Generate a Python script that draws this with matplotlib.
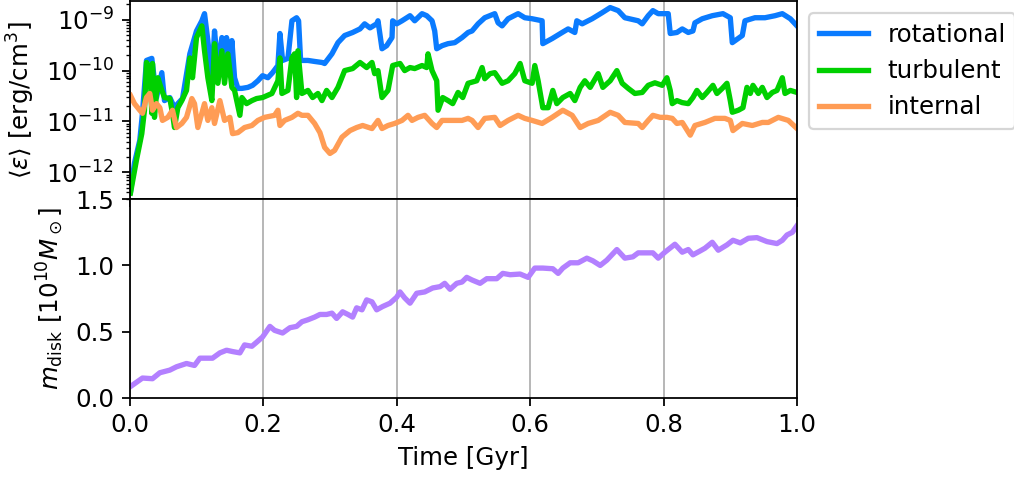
import matplotlib
matplotlib.use("Agg")
import matplotlib.pyplot as plt
import numpy as np

plt.rcParams.update({'font.size': 11})

# energy densities, stored as log10 of <eps> in erg/cm^3
t_rot = [0.001, 0.007, 0.015, 0.019, 0.025, 0.033, 0.040, 0.048, 0.052, 0.060, 0.067, 0.072, 0.079,
         0.090, 0.100, 0.108, 0.112, 0.117, 0.123, 0.127, 0.132, 0.138, 0.142, 0.145, 0.150, 0.153,
         0.157, 0.162, 0.168, 0.177, 0.184, 0.192, 0.199, 0.207, 0.214, 0.222, 0.225, 0.229, 0.237,
         0.243, 0.250, 0.253, 0.256, 0.267, 0.277, 0.288, 0.292, 0.303, 0.312, 0.322, 0.334, 0.345,
         0.352, 0.360, 0.370, 0.372, 0.378, 0.385, 0.393, 0.394, 0.400, 0.408, 0.420, 0.427, 0.438,
         0.445, 0.453, 0.457, 0.460, 0.468, 0.477, 0.487, 0.498, 0.507, 0.513, 0.522, 0.532, 0.547,
         0.552, 0.558, 0.567, 0.582, 0.592, 0.603, 0.618, 0.619, 0.633, 0.648, 0.657, 0.667, 0.670,
         0.678, 0.693, 0.708, 0.720, 0.732, 0.742, 0.762, 0.768, 0.777, 0.784, 0.792, 0.807, 0.810,
         0.820, 0.828, 0.837, 0.844, 0.847, 0.858, 0.873, 0.889, 0.900, 0.903, 0.918, 0.922, 0.937,
         0.952, 0.967, 0.978, 0.990, 1.000]
log_rot = [-12.39, -11.82, -11.37, -10.84, -9.80, -9.76, -10.53, -10.04, -10.59, -10.53, -10.73, -10.65, -10.55,
           -9.67, -9.22, -9.02, -8.88, -9.41, -10.20, -9.22, -9.94, -9.35, -9.94, -9.35, -10.06, -9.41,
           -10.14, -10.35, -10.35, -10.33, -10.29, -10.20, -10.10, -10.14, -10.04, -9.90, -9.27, -9.80, -9.76,
           -9.02, -8.96, -9.02, -9.80, -9.80, -9.82, -9.84, -9.86, -9.67, -9.45, -9.31, -9.25, -9.18,
           -9.08, -9.16, -9.08, -9.02, -9.57, -9.51, -9.35, -9.02, -9.08, -9.02, -8.92, -9.02, -8.88,
           -8.92, -9.02, -9.22, -9.57, -9.51, -9.47, -9.45, -9.35, -9.25, -9.22, -9.08, -8.96, -8.88,
           -9.06, -9.12, -8.98, -8.88, -8.96, -8.98, -9.02, -9.47, -9.37, -9.25, -9.18, -9.25, -9.02,
           -9.08, -8.98, -8.86, -8.76, -8.82, -8.96, -9.02, -9.08, -8.92, -8.82, -8.88, -8.88, -9.27,
           -9.25, -9.18, -9.25, -9.22, -9.06, -8.98, -8.92, -8.88, -8.96, -9.45, -9.31, -9.02, -8.96,
           -8.96, -8.92, -8.88, -8.98, -9.12]

t_turb = [0.001, 0.010, 0.018, 0.022, 0.025, 0.030, 0.033, 0.034, 0.037, 0.042, 0.048, 0.052, 0.060,
          0.064, 0.067, 0.072, 0.078, 0.085, 0.090, 0.094, 0.100, 0.108, 0.112, 0.117, 0.123, 0.127,
          0.132, 0.138, 0.142, 0.147, 0.153, 0.157, 0.165, 0.168, 0.175, 0.183, 0.190, 0.199, 0.213,
          0.222, 0.225, 0.228, 0.237, 0.243, 0.247, 0.250, 0.252, 0.258, 0.267, 0.274, 0.282, 0.288,
          0.295, 0.303, 0.312, 0.322, 0.334, 0.345, 0.355, 0.363, 0.367, 0.372, 0.378, 0.387, 0.394,
          0.405, 0.412, 0.420, 0.427, 0.438, 0.445, 0.447, 0.453, 0.460, 0.462, 0.469, 0.477, 0.484,
          0.492, 0.499, 0.507, 0.520, 0.528, 0.532, 0.540, 0.547, 0.558, 0.567, 0.577, 0.585, 0.592,
          0.603, 0.607, 0.612, 0.619, 0.627, 0.634, 0.640, 0.649, 0.660, 0.667, 0.675, 0.682, 0.690,
          0.702, 0.709, 0.720, 0.730, 0.738, 0.747, 0.757, 0.768, 0.777, 0.787, 0.798, 0.805, 0.810,
          0.813, 0.820, 0.828, 0.837, 0.844, 0.850, 0.858, 0.865, 0.874, 0.880, 0.888, 0.895, 0.900,
          0.903, 0.912, 0.919, 0.925, 0.930, 0.934, 0.942, 0.948, 0.955, 0.963, 0.970, 0.978, 0.982,
          0.990, 1.000]
log_turb = [-12.41, -11.76, -11.24, -10.78, -9.84, -9.94, -10.84, -9.86, -10.92, -10.14, -10.39, -10.53, -10.55,
            -10.84, -11.12, -10.73, -10.59, -10.39, -9.75, -10.14, -9.35, -9.12, -9.61, -10.14, -10.59, -9.47,
            -10.25, -9.61, -10.25, -9.67, -10.33, -10.39, -10.88, -10.53, -10.65, -10.59, -10.55, -10.53, -10.45,
            -10.20, -9.75, -10.45, -10.39, -9.75, -9.67, -10.53, -9.61, -10.45, -10.39, -10.53, -10.45, -10.59,
            -10.39, -10.53, -10.33, -10.00, -9.96, -9.84, -9.94, -9.84, -10.06, -10.00, -10.53, -10.39, -9.90,
            -9.86, -10.00, -9.94, -9.96, -9.90, -9.94, -9.67, -10.00, -10.20, -10.78, -10.53, -10.59, -10.65,
            -10.43, -10.53, -10.25, -10.20, -9.94, -10.16, -10.06, -10.04, -10.25, -10.20, -10.06, -9.86, -10.20,
            -10.25, -9.90, -10.20, -10.73, -10.73, -10.39, -10.65, -10.53, -10.45, -10.59, -10.33, -10.20, -10.33,
            -10.06, -10.33, -10.20, -10.00, -10.25, -10.35, -10.45, -10.43, -10.29, -10.24, -10.29, -10.14, -10.39,
            -10.65, -10.59, -10.63, -10.65, -10.53, -10.39, -10.53, -10.43, -10.29, -10.45, -10.35, -10.25, -10.59,
            -10.82, -10.78, -10.73, -10.33, -10.45, -10.29, -10.45, -10.33, -10.53, -10.43, -10.39, -10.14, -10.45,
            -10.39, -10.43]

t_int = [0.001, 0.007, 0.015, 0.019, 0.025, 0.030, 0.034, 0.040, 0.045, 0.049, 0.057, 0.064, 0.070,
         0.078, 0.085, 0.093, 0.097, 0.102, 0.108, 0.112, 0.117, 0.123, 0.127, 0.135, 0.142, 0.150,
         0.154, 0.162, 0.172, 0.183, 0.192, 0.202, 0.217, 0.222, 0.225, 0.232, 0.243, 0.252, 0.258,
         0.267, 0.277, 0.285, 0.292, 0.300, 0.307, 0.318, 0.330, 0.340, 0.349, 0.363, 0.372, 0.378,
         0.387, 0.397, 0.408, 0.417, 0.423, 0.432, 0.442, 0.453, 0.460, 0.468, 0.483, 0.498, 0.507,
         0.513, 0.522, 0.532, 0.547, 0.555, 0.567, 0.582, 0.592, 0.603, 0.618, 0.633, 0.649, 0.663,
         0.675, 0.687, 0.702, 0.720, 0.732, 0.742, 0.762, 0.768, 0.777, 0.784, 0.795, 0.805, 0.813,
         0.820, 0.828, 0.840, 0.847, 0.862, 0.877, 0.892, 0.900, 0.904, 0.918, 0.933, 0.948, 0.957,
         0.972, 0.987, 1.000]
log_int = [-10.49, -10.65, -10.78, -10.84, -10.53, -10.45, -10.78, -10.65, -10.73, -10.98, -10.92, -10.78, -11.12,
           -11.04, -10.92, -10.55, -10.65, -11.12, -10.84, -10.65, -10.98, -10.73, -11.04, -10.59, -10.98, -10.92,
           -11.24, -11.22, -11.12, -11.08, -10.98, -10.92, -10.88, -10.78, -11.08, -10.98, -10.92, -10.84, -10.88,
           -10.88, -11.04, -11.22, -11.51, -11.63, -11.57, -11.31, -11.18, -11.12, -11.08, -11.14, -10.98, -11.14,
           -11.08, -11.04, -10.98, -10.88, -10.98, -10.92, -10.88, -11.04, -11.12, -10.98, -10.98, -10.98, -10.94,
           -10.98, -11.12, -10.94, -10.92, -11.08, -10.98, -10.88, -10.94, -10.98, -11.04, -10.92, -10.78, -10.88,
           -11.12, -11.04, -10.98, -10.82, -10.88, -11.02, -11.04, -11.12, -10.98, -10.88, -10.92, -10.92, -10.94,
           -11.04, -11.02, -11.27, -11.08, -11.02, -10.94, -10.94, -10.98, -11.18, -11.04, -11.08, -11.02, -11.02,
           -10.92, -10.98, -11.14]

# disk mass in 1e10 Msun
t_mass = [0.003, 0.019, 0.034, 0.045, 0.060, 0.070, 0.085, 0.097, 0.105, 0.124, 0.135, 0.145, 0.154,
          0.165, 0.172, 0.183, 0.190, 0.199, 0.210, 0.217, 0.229, 0.240, 0.250, 0.258, 0.267, 0.277,
          0.285, 0.295, 0.303, 0.310, 0.319, 0.327, 0.334, 0.340, 0.348, 0.355, 0.363, 0.370, 0.379,
          0.390, 0.400, 0.405, 0.412, 0.420, 0.430, 0.442, 0.454, 0.465, 0.472, 0.480, 0.490, 0.498,
          0.505, 0.513, 0.525, 0.535, 0.550, 0.559, 0.570, 0.585, 0.597, 0.607, 0.619, 0.634, 0.642,
          0.649, 0.660, 0.672, 0.685, 0.694, 0.705, 0.715, 0.730, 0.742, 0.754, 0.762, 0.775, 0.784,
          0.792, 0.802, 0.817, 0.828, 0.837, 0.844, 0.855, 0.862, 0.873, 0.882, 0.895, 0.904, 0.915,
          0.927, 0.940, 0.955, 0.970, 0.978, 0.985, 0.993, 1.000]
m_disk = [0.093, 0.15, 0.145, 0.19, 0.21, 0.235, 0.26, 0.245, 0.30, 0.30, 0.34, 0.36, 0.35,
          0.34, 0.40, 0.39, 0.42, 0.46, 0.54, 0.51, 0.49, 0.53, 0.54, 0.575, 0.59, 0.61,
          0.63, 0.63, 0.64, 0.60, 0.65, 0.63, 0.61, 0.68, 0.665, 0.74, 0.725, 0.665, 0.69,
          0.715, 0.76, 0.80, 0.755, 0.715, 0.79, 0.80, 0.83, 0.84, 0.865, 0.82, 0.865, 0.875,
          0.91, 0.89, 0.865, 0.90, 0.90, 0.94, 0.93, 0.935, 0.91, 0.98, 0.98, 0.975, 0.94,
          0.98, 1.02, 1.02, 1.055, 1.035, 1.00, 1.04, 1.12, 1.055, 1.065, 1.095, 1.095, 1.095,
          1.055, 1.10, 1.16, 1.10, 1.12, 1.08, 1.11, 1.13, 1.175, 1.115, 1.155, 1.19, 1.17,
          1.205, 1.21, 1.18, 1.165, 1.19, 1.23, 1.25, 1.30]

fig = plt.figure(figsize=(6.3375, 3.0), dpi=160)
ax1 = fig.add_axes([0.128, 0.585, 0.658, 0.413])
ax2 = fig.add_axes([0.128, 0.171, 0.658, 0.414], sharex=ax1)

lw = 2.4
ax1.plot(t_rot, 10**np.array(log_rot), color="#0a7bff", lw=lw, label="rotational")
ax1.plot(t_turb, 10**np.array(log_turb), color="#00d000", lw=lw, label="turbulent")
ax1.plot(t_int, 10**np.array(log_int), color="#ff9c55", lw=lw, label="internal")
ax1.set_yscale("log")
ax1.set_ylim(10**-12.53, 10**-8.63)
ax1.set_ylabel(r"$\langle\varepsilon\rangle\ [\mathrm{erg/cm}^3]$")
ax1.tick_params(labelbottom=False)
ax1.grid(axis="x", color="#b0b0b0")
ax1.legend(loc="upper left", bbox_to_anchor=(1.0, 1.0), handlelength=2.0)

ax2.plot(t_mass, m_disk, color="#b380ff", lw=lw)
ax2.set_ylim(0, 1.5)
ax2.set_yticks([0.0, 0.5, 1.0, 1.5])
ax2.set_xlim(0, 1)
ax2.set_xticks([0.0, 0.2, 0.4, 0.6, 0.8, 1.0])
ax2.set_ylabel(r"$m_\mathrm{disk}\ [10^{10}M_\odot]$")
ax2.set_xlabel("Time [Gyr]")
ax2.grid(axis="x", color="#b0b0b0")

fig.align_ylabels([ax1, ax2])
fig.savefig("out.png", dpi=160)
